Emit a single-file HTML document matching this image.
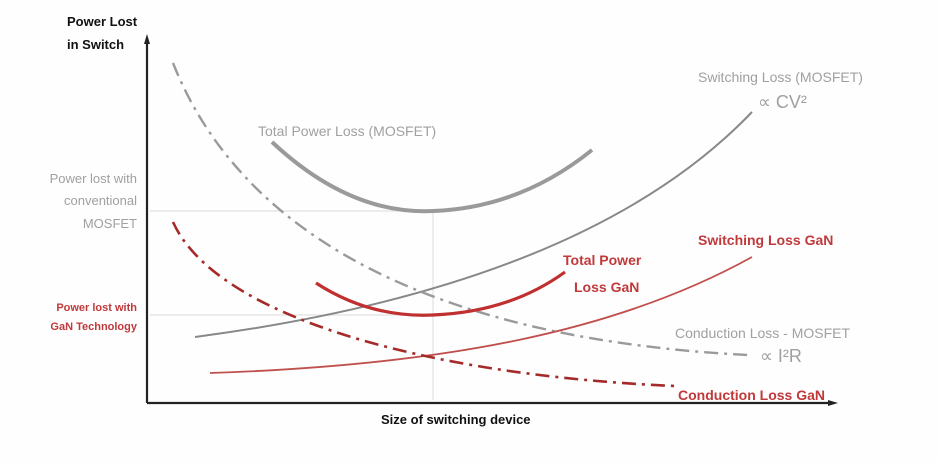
<!DOCTYPE html>
<html><head><style>
body{margin:0;background:#fff;}
svg{display:block;font-family:"Liberation Sans",sans-serif;}
</style></head><body>
<svg width="938" height="462" viewBox="0 0 938 462" xmlns="http://www.w3.org/2000/svg">
<rect width="938" height="462" fill="#fefefe"/>
<!-- guides -->
<line x1="150" y1="211" x2="433" y2="211" stroke="#e2e2e2" stroke-width="1.2"/>
<line x1="150" y1="315" x2="433" y2="315" stroke="#e2e2e2" stroke-width="1.2"/>
<line x1="433" y1="211" x2="433" y2="400" stroke="#e2e2e2" stroke-width="1.2"/>
<!-- axes -->
<line x1="147" y1="403" x2="147" y2="42" stroke="#222" stroke-width="2.2"/>
<polygon points="147,34 144,44 150,44" fill="#222"/>
<line x1="147" y1="403" x2="830" y2="403" stroke="#222" stroke-width="2.2"/>
<polygon points="838,403 828,400 828,406" fill="#222"/>
<!-- curves -->
<path d="M272,142 Q350,215 433,211 Q520,208 592,150" fill="none" stroke="#9a9a9a" stroke-width="4"/>
<path d="M195,337 C400,310 620,250 752,112" fill="none" stroke="#888" stroke-width="2"/>
<path d="M173,63 C245,245 450,340 748,355" fill="none" stroke="#9a9a9a" stroke-width="2.4" stroke-dasharray="14,6,3,6"/>
<path d="M316,283 Q370,318 433,315 Q510,312 565,272" fill="none" stroke="#c03030" stroke-width="3.2"/>
<path d="M210,373 C450,365 620,330 752,257" fill="none" stroke="#c0504d" stroke-width="1.8"/>
<path d="M173,222 C215,315 420,375 675,386" fill="none" stroke="#a52a2a" stroke-width="2.6" stroke-dasharray="14,6,3,6"/>
<!-- labels -->
<g font-weight="bold" fill="#111" font-size="13">
<text x="67" y="26">Power Lost</text>
<text x="67" y="49">in Switch</text>
<text x="381" y="424">Size of switching device</text>
</g>
<g fill="#a0a0a0" font-size="13">
<text x="137" y="183" text-anchor="end">Power lost with</text>
<text x="137" y="205" text-anchor="end">conventional</text>
<text x="137" y="228" text-anchor="end">MOSFET</text>
<text x="258" y="136" font-size="14">Total Power Loss (MOSFET)</text>
<text x="698" y="82" font-size="14">Switching Loss (MOSFET)</text>
<text x="758" y="108" font-size="18">∝ CV²</text>
<text x="675" y="338" font-size="14">Conduction Loss - MOSFET</text>
<text x="760" y="362" font-size="18">∝ I²R</text>
</g>
<g fill="#c0393b" font-weight="bold">
<text x="137" y="311" text-anchor="end" font-size="11">Power lost with</text>
<text x="137" y="330" text-anchor="end" font-size="11">GaN Technology</text>
<text x="563" y="265" font-size="14">Total Power</text>
<text x="574" y="292" font-size="14">Loss GaN</text>
<text x="698" y="245" font-size="14">Switching Loss GaN</text>
<text x="678" y="400" font-size="14">Conduction Loss GaN</text>
</g>
</svg>
</body></html>
